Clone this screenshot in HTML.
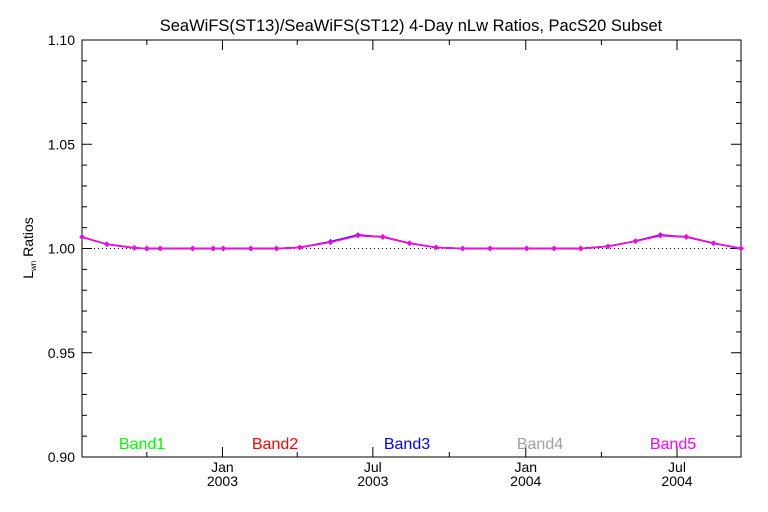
<!DOCTYPE html>
<html><head><meta charset="utf-8"><style>
html,body{margin:0;padding:0;background:#fff;}
svg{display:block;font-family:"Liberation Sans",sans-serif;}
</style></head><body>
<svg id="chart" width="768" height="512" viewBox="0 0 768 512">
<rect width="768" height="512" fill="#fff"/>
<text x="411" y="31" text-anchor="middle" font-size="16.5" fill="#000">SeaWiFS(ST13)/SeaWiFS(ST12) 4-Day nLw Ratios, PacS20 Subset</text>
<text transform="translate(33,248) rotate(-90)" text-anchor="middle" font-size="14" fill="#000">L<tspan font-size="8" dy="3">wn</tspan><tspan dy="-3"> Ratios</tspan></text>
<g id="axes"></g>
<g id="series"></g>
<g id="legend"></g>
</svg>
<script>
// days since 2003-01-01
const days = [-169,-139,-106,-91,-75,-36,-11,1,34,65,93,130,163,193,225,257,289,322,366,399,431,464,497,527,558,591,624];
const band1 = [1.0055,1.002,1.0003,1.0,1.0,1.0,1.0,1.0,1.0,1.0,1.0005,1.003,1.0062,1.0055,1.0025,1.0005,1.0,1.0,1.0,1.0,1.0,1.001,1.0035,1.0062,1.0055,1.0025,1.0];
const band2 = [1.0055,1.002,1.0003,1.0,1.0,1.0,1.0,1.0,1.0,1.0,1.0005,1.003,1.0062,1.0057,1.0026,1.0005,1.0,1.0,1.0,1.0,1.0,1.001,1.0035,1.0062,1.0057,1.0026,1.0];
const band3 = [1.0055,1.002,1.0003,1.0,1.0,1.0,1.0,1.0,1.0,1.0,1.0005,1.0033,1.0065,1.0055,1.0025,1.0005,1.0,1.0,1.0,1.0,1.0,1.001,1.0036,1.0065,1.0055,1.0025,1.0];
const band4 = [1.0055,1.002,1.0003,1.0,1.0,1.0,1.0,1.0,1.0,1.0,1.0005,1.003,1.0062,1.0055,1.0025,1.0005,1.0,1.0,1.0,1.0,1.0,1.001,1.0035,1.0062,1.0055,1.0025,1.0];
const band5 = [1.0055,1.002,1.0003,1.0,1.0,1.0,1.0,1.0,1.0,1.0,1.0005,1.003,1.0062,1.0055,1.0025,1.0005,1.0,1.0,1.0,1.0,1.0,1.001,1.0035,1.0062,1.0055,1.0025,1.0];
const bandNames = ["Band1","Band2","Band3","Band4","Band5"];
const bandColors = ["#00ff00","#ff0000","#0000ff","#a0a0a0","#ff00ff"];
const yTicks = [0.90,0.95,1.00,1.05,1.10];
const yTickLabels = ["0.90","0.95","1.00","1.05","1.10"];
const xMajorDays = [0,181,365,547];
const xMonthLabels = ["Jan","Jul","Jan","Jul"];
const xYearLabels = ["2003","2003","2004","2004"];
const xMinorDays = [-91,90,273,456];

const L=82,R=741,T=40,B=457, XMIN=-169, XMAX=624, YMIN=0.90, YMAX=1.10;
const xs = d => L + (d-XMIN)/(XMAX-XMIN)*(R-L);
const ys = v => B - (v-YMIN)/(YMAX-YMIN)*(B-T);
const NS="http://www.w3.org/2000/svg";
function mk(tag, attrs, parent){const e=document.createElementNS(NS,tag);for(const k in attrs)e.setAttribute(k,attrs[k]);parent.appendChild(e);return e;}
const axes=document.getElementById('axes'), ser=document.getElementById('series'), leg=document.getElementById('legend');

const frame=mk('rect',{x:L,y:T,width:R-L,height:B-T,fill:'none',stroke:'#000','stroke-width':1},axes);


const ref=mk('line',{x1:L,x2:R,y1:ys(1.0),y2:ys(1.0),stroke:'#000','stroke-width':1,'stroke-dasharray':'1,3'},axes);



for(let i=0;i<=20;i++){
  const v=YMIN+i*0.01, y=ys(v), major=(i%5===0), len=major?10:5;
  const t1=mk('line',{x1:L,x2:L+len,y1:y,y2:y,stroke:'#000'},axes);
  
  
  const t2=mk('line',{x1:R-len,x2:R,y1:y,y2:y,stroke:'#000'},axes);
  
  
}
yTicks.forEach((v,i)=>{
  const t=mk('text',{x:L-7,y:ys(v)+5,'text-anchor':'end','font-size':14,fill:'#000'},axes);
  t.textContent=yTickLabels[i];
  
  
});
xMajorDays.forEach((d,i)=>{
  const x=xs(d);
  const t=mk('line',{x1:x,x2:x,y1:B,y2:B-10,stroke:'#000'},axes);
  
  
  const t2=mk('line',{x1:x,x2:x,y1:T,y2:T+10,stroke:'#000'},axes);
  
  
  const a=mk('text',{x:x,y:472,'text-anchor':'middle','font-size':14,fill:'#000'},axes);
  a.textContent=xMonthLabels[i];
  
  
  const b=mk('text',{x:x,y:486,'text-anchor':'middle','font-size':14,fill:'#000'},axes);
  b.textContent=xYearLabels[i];
  
  
});
xMinorDays.forEach(d=>{
  const x=xs(d);
  const t=mk('line',{x1:x,x2:x,y1:B,y2:B-5,stroke:'#000'},axes);
  
  
  const t2=mk('line',{x1:x,x2:x,y1:T,y2:T+5,stroke:'#000'},axes);
  
  
});

const bands=[band1,band2,band3,band4,band5];
const order=[3,0,2,1,4];
order.forEach(bi=>{
  const vals=bands[bi], c=bandColors[bi];
  const pts=days.map((d,i)=>xs(d).toFixed(1)+','+ys(vals[i]).toFixed(1)).join(' ');
  const pl=mk('polyline',{points:pts,fill:'none',stroke:c,'stroke-width':1.5},ser);
  
  
  days.forEach((d,i)=>{
    const p=mk('path',{d:`M${xs(d)-2},${ys(vals[i])}L${xs(d)},${ys(vals[i])-2}L${xs(d)+2},${ys(vals[i])}L${xs(d)},${ys(vals[i])+2}Z`,fill:'none',stroke:c,'stroke-width':1},ser);
    
    
  });
});
const legX=[142,275,407,540,673];
bandNames.forEach((n,i)=>{
  const t=mk('text',{x:legX[i],y:449,'text-anchor':'middle','font-size':16,fill:bandColors[i]},leg);
  t.textContent=n;
  
  
});
</script>
</body></html>
